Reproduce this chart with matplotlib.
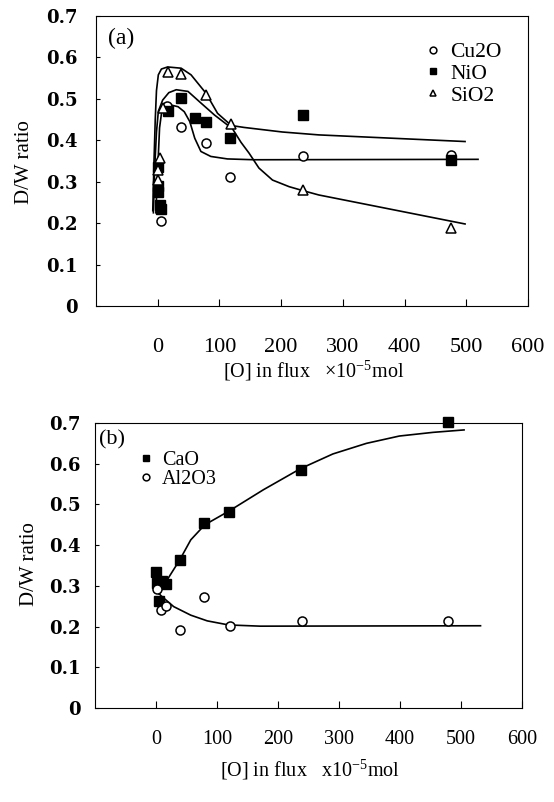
import matplotlib
matplotlib.use("Agg")
import matplotlib.pyplot as plt

plt.rcParams['font.family'] = ['Liberation Serif', 'DejaVu Serif']
plt.rcParams['mathtext.fontset'] = 'custom'
plt.rcParams['mathtext.rm'] = 'Liberation Serif'

# ---- panel (a) data ----
cu2o_x = [6, 15, 37, 78, 117, 236, 476]
cu2o_y = [0.204, 0.483, 0.432, 0.393, 0.312, 0.362, 0.365]
nio_x = [0, 0, 0, 3, 6, 17, 37, 60, 78, 117, 236, 476]
nio_y = [0.335, 0.29, 0.275, 0.245, 0.235, 0.471, 0.502, 0.453, 0.443, 0.405, 0.461, 0.353]
sio2_x = [0, 0, 4, 9, 16, 37, 78, 118, 236, 476]
sio2_y = [0.328, 0.305, 0.357, 0.477, 0.566, 0.560, 0.510, 0.440, 0.280, 0.189]

# fitted curves
cu2o_fit_x = [-3, 0, 3, 7, 12, 19, 33, 43, 52, 60, 70, 86, 113, 156, 519]
cu2o_fit_y = [0.225, 0.33, 0.43, 0.475, 0.484, 0.486, 0.481, 0.469, 0.445, 0.405, 0.373, 0.361, 0.355, 0.353, 0.354]
nio_fit_x = [-7, -5, -2, 1, 8, 18, 30, 49, 70, 92, 113, 140, 202, 261, 498]
nio_fit_y = [0.225, 0.33, 0.42, 0.47, 0.497, 0.515, 0.522, 0.518, 0.49, 0.461, 0.437, 0.431, 0.42, 0.413, 0.397]
sio2_fit_x = [-8, -6, -4, -2, 1, 6, 16, 38, 54, 78, 97, 116, 135, 148, 164, 186, 213, 234, 261, 498]
sio2_fit_y = [0.23, 0.35, 0.45, 0.52, 0.558, 0.572, 0.577, 0.574, 0.558, 0.514, 0.465, 0.44, 0.395, 0.369,
              0.333, 0.304, 0.288, 0.279, 0.268, 0.198]

# ---- panel (b) data ----
cao_x = [0, 2, 10, 17, 5, 39, 79, 120, 237, 478]
cao_y = [0.333, 0.306, 0.312, 0.305, 0.264, 0.364, 0.454, 0.482, 0.585, 0.703]
al2o3_x = [2, 9, 17, 40, 79, 121, 239, 479]
al2o3_y = [0.292, 0.241, 0.251, 0.192, 0.272, 0.202, 0.214, 0.214]

cao_fit_x = [5, 18, 39, 57, 80, 120, 176, 237, 290, 345, 399, 454, 505]
cao_fit_y = [0.28, 0.314, 0.364, 0.413, 0.45, 0.484, 0.536, 0.588, 0.624, 0.65, 0.668, 0.677, 0.683]
al2o3_fit_x = [3, 8, 29, 57, 84, 119, 171, 532]
al2o3_fit_y = [0.285, 0.276, 0.249, 0.228, 0.214, 0.204, 0.201, 0.202]

x_ticks = [0, 100, 200, 300, 400, 500, 600]
y_ticks = [0, 0.1, 0.2, 0.3, 0.4, 0.5, 0.6, 0.7]

fig = plt.figure(figsize=(5.54, 8.02), dpi=100)
ax1 = fig.add_axes([96 / 554, 1 - 306 / 802, 432 / 554, 290 / 802])
ax2 = fig.add_axes([95 / 554, 1 - 708 / 802, 427 / 554, 285 / 802])


def style_axes(ax, xpad, ypad, xsize):
    ax.set_xlim(-100, 600)
    ax.set_ylim(0, 0.7)
    ax.set_xticks(x_ticks)
    ax.set_yticks(y_ticks)
    ax.set_yticklabels(['0' if v == 0 else '%.1f' % v for v in y_ticks],
                       fontsize=13, fontweight='bold', family='DejaVu Serif')
    ax.set_xticklabels([str(v) for v in x_ticks], fontsize=xsize)
    ax.tick_params(axis='x', direction='in', length=5, width=0.8, pad=xpad)
    ax.tick_params(axis='y', direction='in', length=3, width=0.8, pad=ypad)
    for s in ax.spines.values():
        s.set_linewidth(0.8)


mk = dict(linestyle='none', markersize=6.5, color='black', clip_on=False)

ax1.plot(cu2o_fit_x, cu2o_fit_y, color='black', lw=1.2)
ax1.plot(nio_fit_x, nio_fit_y, color='black', lw=1.2)
ax1.plot(sio2_fit_x, sio2_fit_y, color='black', lw=1.2)
h1, = ax1.plot(cu2o_x, cu2o_y, marker='o', mfc='white', mew=1.1, label='Cu2O', **mk)
h2, = ax1.plot(nio_x, nio_y, marker='s', mfc='black', label='NiO', **mk)
h3, = ax1.plot(sio2_x, sio2_y, marker='^', mfc='white', mew=1.1, label='SiO2', **mk)
style_axes(ax1, 23, 13, 16)
ax1.text(0.028, 0.96, '(a)', transform=ax1.transAxes, fontsize=17, va='top')
ax1.legend(handles=[h1, h2, h3], loc='upper left', bbox_to_anchor=(0.745, 0.94), frameon=False,
           fontsize=15.5, handlelength=0.6, handletextpad=0.5, labelspacing=0.08, markerscale=0.75,
           borderaxespad=0)

ax2.plot(cao_fit_x, cao_fit_y, color='black', lw=1.2)
ax2.plot(al2o3_fit_x, al2o3_fit_y, color='black', lw=1.2)
g1, = ax2.plot(cao_x, cao_y, marker='s', mfc='black', label='CaO', **mk)
g2, = ax2.plot(al2o3_x, al2o3_y, marker='o', mfc='white', mew=1.1, label='Al2O3', **mk)
style_axes(ax2, 16, 10, 14.5)
ax2.text(0.01, 0.975, '(b)', transform=ax2.transAxes, fontsize=16, va='top')
ax2.legend(handles=[g1, g2], loc='upper left', bbox_to_anchor=(0.086, 0.93), frameon=False,
           fontsize=14.5, handlelength=0.6, handletextpad=0.5, labelspacing=0.0, markerscale=0.75,
           borderaxespad=0)

fig.text(0.567, 1 - 371 / 802, '[O] in flux   \u00d710$^{-5}$mol', fontsize=14.5, ha='center', va='center')
fig.text(0.56, 1 - 770 / 802, '[O] in flux   x10$^{-5}$mol', fontsize=14.5, ha='center', va='center')
fig.text(0.045, 1 - 162 / 802, 'D/W ratio', fontsize=15, rotation=90, ha='center', va='center')
fig.text(0.054, 1 - 564 / 802, 'D/W ratio', fontsize=15, rotation=90, ha='center', va='center')

fig.savefig('out.png', dpi=100)
